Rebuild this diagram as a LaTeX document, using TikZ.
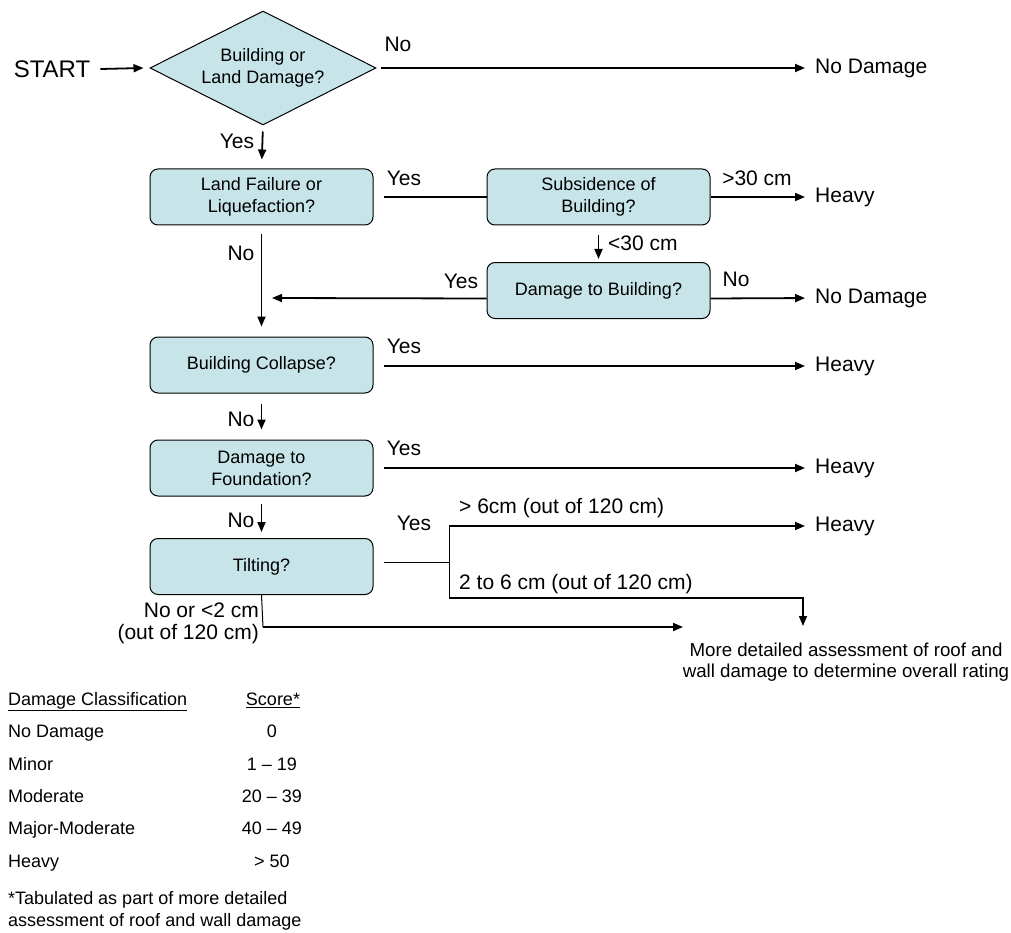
\documentclass[tikz,border=0pt]{standalone}
\usepackage{fontspec}
\setmainfont{Liberation Sans}
\usetikzlibrary{arrows.meta,shapes.geometric,calc}
\definecolor{boxfill}{RGB}{199,229,232}
\tikzset{
  qbox/.style={rectangle, rounded corners=8pt, draw=black, line width=1pt, fill=boxfill,
    minimum width=223pt, minimum height=56pt, align=center, inner sep=2pt,
    font=\fontsize{18}{22}\selectfont},
  qdia/.style={diamond, draw=black, line width=1pt, fill=boxfill, aspect=2,
    minimum width=226pt, minimum height=114pt, inner sep=0pt, align=center,
    font=\fontsize{18}{22}\selectfont},
  lbl/.style={inner sep=0pt, text height=15pt, text depth=4pt, font=\fontsize{21}{22}\selectfont},
  lbl2/.style={inner sep=0pt, font=\fontsize{21}{22}\selectfont},
  outc/.style={inner sep=0pt, anchor=west, text height=15pt, text depth=4pt, font=\fontsize{21}{22}\selectfont},
  tbl/.style={inner sep=0pt, text height=13pt, text depth=4pt, font=\fontsize{18}{22}\selectfont},
  arr/.style={line width=1.8pt, -{Triangle[length=10pt,width=8pt]}},
  thk/.style={line width=1.8pt},
  thn/.style={line width=1pt},
}
\begin{document}
\begin{tikzpicture}[x=1pt,y=-1pt]
\useasboundingbox (0,0) rectangle (1011,933);

% start and first question
\node[lbl, font=\fontsize{24}{26}\selectfont, text height=17pt, text depth=0pt] (start) at (52,69) {START};
\node[qdia] (q0) at (263,68) {Building or\\Land Damage?};
\node[outc] (nd0) at (815,68) {No Damage};
\draw[arr] ([xshift=10pt]start.east) -- ([xshift=-6pt]q0.west);
\draw[arr, shorten <=4pt, shorten >=10pt] (q0.east) -- (nd0.west);
\node[lbl] at (398,46) {No};

% boxes
\node[qbox] (b1) at (261.5,197) {Land Failure or\\Liquefaction?};
\node[qbox] (b2) at (598.5,197) {Subsidence of\\Building?};
\node[qbox] (b3) at (598.5,290.5) {Damage to Building?};
\node[qbox] (b4) at (261.5,365) {Building Collapse?};
\node[qbox] (b5) at (261.5,468) {Damage to\\Foundation?};
\node[qbox] (b6) at (261.5,566.5) {Tilting?};

% outcomes
\node[outc] (h1) at (815,197) {Heavy};
\node[outc] (nd1) at (815,298) {No Damage};
\node[outc] (h2) at (815,366) {Heavy};
\node[outc] (h3) at (815,468) {Heavy};
\node[outc] (h4) at (815,526) {Heavy};
\node[inner sep=0pt, align=center, anchor=north, font=\fontsize{18.7}{20.5}\selectfont] (md) at (846,643)
  {More detailed assessment of roof and\\wall damage to determine overall rating};

% q0 -> b1
\draw[arr, shorten <=6pt, shorten >=9pt] (q0.south) -- (b1.north);
\node[lbl] at (237,143) {Yes};

% b1 -> b2
\draw[thk, shorten <=10pt] (b1.east) -- (b2.west);
\node[lbl] at (404,180) {Yes};

% b2 -> Heavy
\draw[arr, shorten >=10pt] (b2.east) -- (h1.west);
\node[lbl] at (757,180) {>30 cm};

% b2 -> b3
\draw[arr, shorten <=10pt, shorten >=3pt] (b2.south) -- (b3.north);
\node[lbl, anchor=west] at (608,245) {<30 cm};

% b3 -> No Damage
\draw[arr, shorten >=10pt] ([yshift=-8pt]b3.east) -- (nd1.west);
\node[lbl] at (736,281) {No};

% b3 -> left
\coordinate (m1) at (272,298);
\draw[arr] ([yshift=-8pt]b3.west) -- (m1);
\node[lbl] at (461,283) {Yes};

% b1 -> b4
\draw[arr, shorten <=9pt, shorten >=10pt] (b1.south) -- (b4.north);
\node[lbl] at (241,255) {No};

% b4 -> Heavy
\draw[arr, shorten <=10pt, shorten >=10pt] ([yshift=-1pt]b4.east) -- (h2.west);
\node[lbl] at (404,348) {Yes};

% b4 -> b5
\draw[arr, shorten <=10pt, shorten >=10pt] (b4.south) -- (b5.north);
\node[lbl] at (241,421) {No};

% b5 -> Heavy
\draw[arr, shorten <=10pt, shorten >=10pt] (b5.east) -- (h3.west);
\node[lbl] at (404,450) {Yes};

% b5 -> b6
\draw[arr, shorten <=7pt, shorten >=6pt] (b5.south) -- (b6.north);
\node[lbl] at (241,522) {No};

% b6 -> tilting branches
\coordinate (j) at (449,562);
\coordinate (jt) at (449,526);
\coordinate (jb) at (449,598);
\coordinate (jc) at (803,598);
\coordinate (jd) at (803,626);
\draw[thn, shorten <=10pt] (b6.east |- j) -- (j);
\draw[thn] (jt) -- (jb);
\draw[arr, shorten >=10pt] (jt) -- (h4.west);
\draw[line width=1.5pt, -{Triangle[length=10pt,width=8pt]}] (jb) -- (jc) -- (jd);
\node[lbl] at (414,525) {Yes};
\node[lbl, anchor=west] at (459,508) {> 6cm (out of 120 cm)};
\node[lbl, anchor=west] at (459,584) {2 to 6 cm (out of 120 cm)};

% b6 -> No
\coordinate (n1) at (263,627);
\coordinate (n2) at (683,627);
\draw[thn] (b6.south) -- (n1);
\draw[arr] (n1) -- (n2);
\node[lbl2, align=right, anchor=east] at (259,623) {No or <2 cm\\(out of 120 cm)};

% table
\node[tbl, anchor=west] at (8,701) {\underline{Damage Classification}};
\node[tbl] at (273,701) {\underline{Score*}};
\node[tbl, anchor=west] at (8,733) {No Damage};
\node[tbl] at (272,733) {0};
\node[tbl, anchor=west] at (8,766) {Minor};
\node[tbl] at (272,766) {1 – 19};
\node[tbl, anchor=west] at (8,798) {Moderate};
\node[tbl] at (272,798) {20 – 39};
\node[tbl, anchor=west] at (8,830) {Major-Moderate};
\node[tbl] at (272,830) {40 – 49};
\node[tbl, anchor=west] at (8,863) {Heavy};
\node[tbl] at (272,863) {> 50};
\node[inner sep=0pt, anchor=west, align=left, font=\fontsize{18}{22}\selectfont] at (8,911)
  {*Tabulated as part of more detailed\\assessment of roof and wall damage};
\end{tikzpicture}
\end{document}
